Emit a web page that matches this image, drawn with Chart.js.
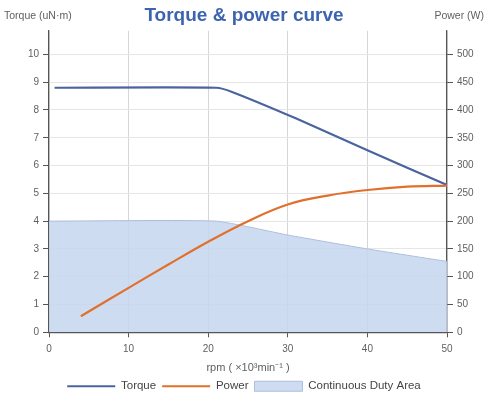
<!DOCTYPE html>
<html>
<head>
<meta charset="utf-8">
<script src="https://cdn.jsdelivr.net/npm/chart.js@4.4.1/dist/chart.umd.min.js"></script>
<style>
  html, body { margin: 0; padding: 0; background: #fff; }
  #wrap { width: 488px; height: 395px; }
</style>
</head>
<body>
<div id="wrap"><canvas id="torqueChart"></canvas></div>
<script>
// values
const torqueRpm = [0.7, 21, 23, 31, 40, 50];
const torqueVals = [8.8, 8.8, 8.65, 7.7, 6.55, 5.3];

const powerRpm = [4, 10, 15, 20, 25, 30, 35, 40, 45, 50];
const powerVals = [29, 80, 122, 163, 200, 230, 246, 256, 262, 264];

const dutyRpm = [0, 21, 30, 40, 50];
const dutyVals = [4, 4, 3.5, 3.0, 2.55];

const xTicks = [0, 10, 20, 30, 40, 50];
const torqueTicks = [0, 1, 2, 3, 4, 5, 6, 7, 8, 9, 10];
const powerTicks = [0, 50, 100, 150, 200, 250, 300, 350, 400, 450, 500];

const toPts = (xs, ys) => xs.map((x, i) => ({ x: x, y: ys[i] }));

const grey = '#5f5f5f';
const tickFont = { family: 'Liberation Sans', size: 10 };

const topLabels = {
  id: 'topLabels',
  afterDraw(chart) {
    const ctx = chart.ctx;
    ctx.save();
    ctx.font = '10.5px "Liberation Sans"';
    ctx.fillStyle = grey;
    ctx.textBaseline = 'middle';
    ctx.textAlign = 'left';
    ctx.fillText('Torque (uN·m)', 4, 16);
    ctx.textAlign = 'right';
    ctx.fillText('Power (W)', 484, 16);
    ctx.restore();
  }
};

new Chart(document.getElementById('torqueChart'), {
  type: 'line',
  plugins: [topLabels],
  data: {
    datasets: [
      {
        label: 'Torque',
        data: toPts(torqueRpm, torqueVals),
        yAxisID: 'y',
        borderColor: '#4a64a0',
        borderWidth: 2.2,
        pointRadius: 0,
        fill: false,
        tension: 0.2,
        order: 1
      },
      {
        label: 'Power',
        data: toPts(powerRpm, powerVals),
        yAxisID: 'y1',
        borderColor: '#e0702c',
        borderWidth: 2.2,
        pointRadius: 0,
        fill: false,
        tension: 0.4,
        order: 0
      },
      {
        label: 'Continuous Duty Area',
        data: toPts(dutyRpm, dutyVals),
        yAxisID: 'y',
        borderColor: '#aebfdc',
        borderWidth: 1,
        backgroundColor: 'rgba(198,214,238,0.85)',
        pointRadius: 0,
        fill: 'origin',
        tension: 0.15,
        order: 2
      }
    ]
  },
  options: {
    responsive: true,
    maintainAspectRatio: false,
    animation: false,
    layout: { padding: { left: 0, right: 0, top: 0, bottom: -7 } },
    plugins: {
      title: {
        display: true,
        text: 'Torque & power curve',
        color: '#3c64b0',
        font: { family: 'Liberation Sans', size: 19, weight: 'bold' },
        padding: { top: 4, bottom: 4 }
      },
      legend: {
        position: 'bottom',
        labels: {
          color: '#444',
          font: { family: 'Liberation Sans', size: 11.5 },
          usePointStyle: true,
          pointStyleWidth: 48,
          boxHeight: 10,
          padding: 6,
          generateLabels(chart) {
            return chart.data.datasets.map((ds, i) => ({
              text: ds.label,
              datasetIndex: i,
              fillStyle: ds.backgroundColor || ds.borderColor,
              strokeStyle: ds.borderColor,
              lineWidth: i === 2 ? 1 : 2,
              pointStyle: i === 2 ? 'rect' : 'line',
              fontColor: '#444',
              hidden: false
            }));
          }
        }
      },
      tooltip: { enabled: false }
    },
    scales: {
      x: {
        type: 'linear',
        min: 0,
        max: 50,
        afterBuildTicks(scale) { scale.ticks = xTicks.map(v => ({ value: v })); },
        ticks: { color: grey, font: tickFont, padding: 6 },
        grid: { color: '#d6d6d6', tickLength: 5, tickColor: '#555' },
        border: { color: '#555', width: 1.2 },
        title: {
          display: true,
          text: 'rpm ( ×10³min⁻¹ )',
          color: grey,
          font: { family: 'Liberation Sans', size: 11 },
          padding: { top: 0, bottom: 0 }
        }
      },
      y: {
        position: 'left',
        min: 0,
        max: 10.85,
        afterBuildTicks(scale) { scale.ticks = torqueTicks.map(v => ({ value: v })); },
        afterFit(scale) { scale.width = 49; },
        ticks: { color: grey, font: tickFont, padding: 4 },
        grid: { color: '#e6e6e6', tickLength: 6, tickColor: '#555' },
        border: { color: '#555', width: 1.2 }
      },
      y1: {
        position: 'right',
        min: 0,
        max: 542.5,
        afterBuildTicks(scale) { scale.ticks = powerTicks.map(v => ({ value: v })); },
        afterFit(scale) { scale.width = 41; },
        ticks: { color: grey, font: tickFont, padding: 4 },
        grid: { drawOnChartArea: false, tickLength: 6, tickColor: '#555' },
        border: { color: '#555', width: 1.2 }
      }
    }
  }
});
</script>
</body>
</html>
